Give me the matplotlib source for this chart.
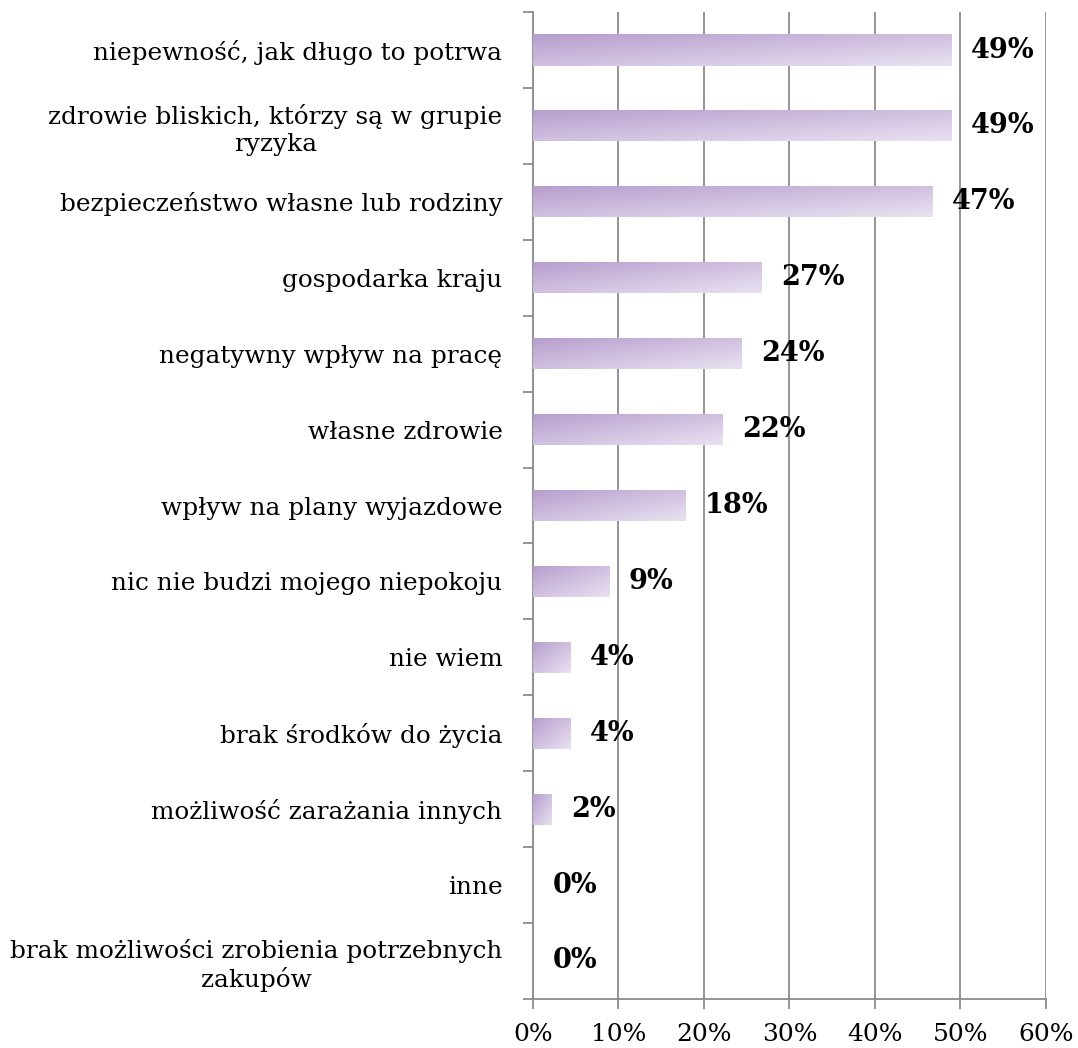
import numpy as np
import matplotlib.pyplot as plt
from matplotlib.ticker import FixedLocator, PercentFormatter

# Data (share of respondents, %)
categories = [
    "niepewność, jak długo to potrwa",
    "zdrowie bliskich, którzy są w grupie\nryzyka",
    "bezpieczeństwo własne lub rodziny",
    "gospodarka kraju",
    "negatywny wpływ na pracę",
    "własne zdrowie",
    "wpływ na plany wyjazdowe",
    "nic nie budzi mojego niepokoju",
    "nie wiem",
    "brak środków do życia",
    "możliwość zarażania innych",
    "inne",
    "brak możliwości zrobienia potrzebnych\nzakupów",
]
values = [48.9, 48.9, 46.7, 26.7, 24.4, 22.2, 17.8, 8.9, 4.4, 4.4, 2.2, 0.0, 0.0]
xticks = [0, 10, 20, 30, 40, 50, 60]

plt.rcParams['font.family'] = ['DejaVu Serif']

fig = plt.figure(figsize=(10.78, 10.48), dpi=100)
ax = fig.add_axes([0.4944, 0.0468, 0.4759, 0.9417])

n = len(categories)
ypos = np.arange(n)
bars = ax.barh(ypos, values, height=0.41, color='none', edgecolor='none', zorder=3)

# diagonal purple gradient clipped into each bar
gx, gy = np.meshgrid(np.linspace(0, 1, 200), np.linspace(0, 1, 20))
t = 0.5 * gx + 0.5 * gy
c0 = np.array([183, 158, 206]) / 255
c1 = np.array([233, 225, 241]) / 255
grad = c0 + (c1 - c0) * t[..., None]
for b in bars:
    w = b.get_width()
    if w <= 0:
        continue
    y0 = b.get_y()
    im = ax.imshow(grad, extent=(0, w, y0 + b.get_height(), y0),
                   aspect='auto', zorder=3, interpolation='bilinear')
    im.set_clip_path(b)

for y, v in zip(ypos, values):
    ax.annotate(f"{v:.0f}%", xy=(v, y), xytext=(14, 0), textcoords='offset points',
                va='center', ha='left', fontsize=19.5, fontweight='bold', zorder=4)

ax.set_xlim(0, 60)
ax.set_ylim(n - 0.5, -0.5)
ax.set_xticks(xticks)
ax.xaxis.set_major_formatter(PercentFormatter(decimals=0))
ax.set_yticks(ypos)
ax.set_yticklabels(categories, multialignment='center', linespacing=1.2)
ax.yaxis.set_minor_locator(FixedLocator(np.arange(-0.5, n, 1)))

ax.tick_params(axis='y', which='major', length=0, pad=22, labelsize=17.8)
ax.tick_params(axis='y', which='minor', length=7, width=1.3, color='#8c8c8c')
ax.tick_params(axis='x', which='major', length=7, width=1.3, color='#8c8c8c',
               labelsize=18, pad=10)

ax.grid(axis='x', color='#8c8c8c', linewidth=1.3, zorder=0)
ax.set_axisbelow(True)
for side in ['top', 'right']:
    ax.spines[side].set_visible(False)
for side in ['left', 'bottom']:
    ax.spines[side].set_color('#8c8c8c')
    ax.spines[side].set_linewidth(1.3)

fig.savefig('out.png', dpi=100)
